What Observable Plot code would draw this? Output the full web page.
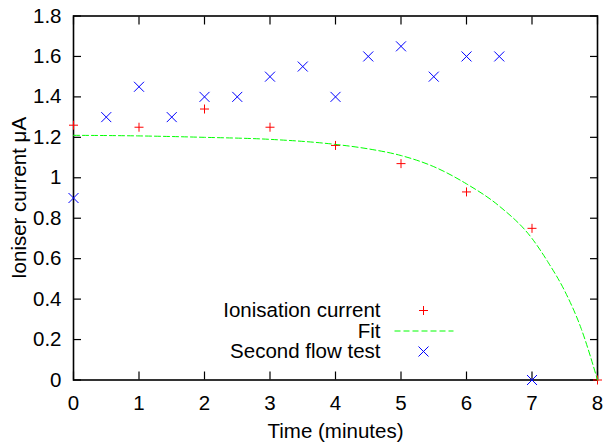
<!DOCTYPE html>
<html>
<head>
<meta charset="utf-8">
<script src="https://cdn.jsdelivr.net/npm/d3@7"></script>
<script src="https://cdn.jsdelivr.net/npm/@observablehq/plot@0.6"></script>
<style>
  html, body { margin: 0; padding: 0; background: #ffffff; }
  #chart { width: 604px; height: 446px; }
</style>
</head>
<body>
<div id="chart"></div>
<script>
// Ionisation current (red +)
const ionT = [0, 1, 2, 3, 4, 5, 6, 7, 8];
const ionV = [1.26, 1.25, 1.34, 1.25, 1.16, 1.07, 0.93, 0.75, 0.0];

// Second flow test (blue x)
const flowT = [0, 0.5, 1, 1.5, 2, 2.5, 3, 3.5, 4, 4.5, 5, 5.5, 6, 6.5, 7];
const flowV = [0.9, 1.3, 1.45, 1.3, 1.4, 1.4, 1.5, 1.55, 1.4, 1.6, 1.65, 1.5, 1.6, 1.6, 0.0];

// Fit curve (green dashed)
const fitT = [0, 1, 2, 3, 4, 4.5, 5, 5.5, 6, 6.5, 7, 7.25, 7.5, 7.75, 8];
const fitV = [1.21, 1.207, 1.2, 1.19, 1.165, 1.143, 1.11, 1.055, 0.97, 0.86, 0.70, 0.58, 0.44, 0.255, 0.0];

const xTicks = [0, 1, 2, 3, 4, 5, 6, 7, 8];
const yTicks = [0, 0.2, 0.4, 0.6, 0.8, 1, 1.2, 1.4, 1.6, 1.8];

const seriesNames = ["Ionisation current", "Fit", "Second flow test"];
const xLabel = "Time (minutes)";
const yLabel = "Ioniser current μA";

const ion = ionT.map((t, i) => ({t, v: ionV[i]}));
const flow = flowT.map((t, i) => ({t, v: flowV[i]}));
const fit = fitT.map((t, i) => ({t, v: fitV[i]}));

const plusSym = {draw(ctx, size) {
  const r = Math.sqrt(size / Math.PI);
  ctx.moveTo(-r, 0); ctx.lineTo(r, 0);
  ctx.moveTo(0, -r); ctx.lineTo(0, r);
}};
const timesSym = {draw(ctx, size) {
  const r = Math.sqrt(size / Math.PI);
  ctx.moveTo(-r, -r); ctx.lineTo(r, r);
  ctx.moveTo(-r, r); ctx.lineTo(r, -r);
}};
const hlineSym = {draw(ctx, size) {
  const r = Math.sqrt(size / Math.PI);
  ctx.moveTo(-r, 0); ctx.lineTo(r, 0);
}};

const RED = "#ff0000", GREEN = "#00ff00", BLUE = "#0000ff";
const blank = () => "";
const numFmt = d => String(+d.toFixed(1));
const FS = 20.5;

const chart = Plot.plot({
  width: 604,
  height: 446,
  marginLeft: 73,
  marginRight: 7,
  marginTop: 15.5,
  marginBottom: 66.5,
  style: {fontSize: FS + "px", fontFamily: "'Liberation Sans', Arial, sans-serif", background: "#ffffff", color: "#000", overflow: "visible"},
  x: {domain: [0, 8]},
  y: {domain: [0, 1.8]},
  marks: [
    // inward ticks on all four sides
    Plot.axisX(xTicks, {anchor: "bottom", tickSize: 8, dy: -8, tickFormat: blank, label: null, strokeWidth: 1.2}),
    Plot.axisX(xTicks, {anchor: "top", tickSize: 8, dy: 8, tickFormat: blank, label: null, strokeWidth: 1.2}),
    Plot.axisY(yTicks, {anchor: "left", tickSize: 8, dx: 8, tickFormat: blank, label: null, strokeWidth: 1.2}),
    Plot.axisY(yTicks, {anchor: "right", tickSize: 8, dx: -8, tickFormat: blank, label: null, strokeWidth: 1.2}),
    // tick labels
    Plot.axisX(xTicks, {anchor: "bottom", tickSize: 0, tickPadding: 15, label: null, fontSize: FS, tickFormat: numFmt}),
    Plot.axisY(yTicks, {anchor: "left", tickSize: 0, tickPadding: 12, label: null, fontSize: FS, tickFormat: numFmt}),
    Plot.frame({stroke: "#000", strokeWidth: 1.6}),
    // axis titles
    Plot.text([xLabel], {frameAnchor: "bottom", dy: 51, lineAnchor: "middle", fontSize: FS}),
    Plot.text([yLabel], {frameAnchor: "left", dx: -54, rotate: -90, lineAnchor: "middle", textAnchor: "middle", fontSize: FS}),
    // data (gnuplot order: points, fit, second test)
    Plot.dot(ion, {x: "t", y: "v", symbol: plusSym, r: 4.5, stroke: RED, fill: "none", strokeWidth: 1}),
    Plot.line(fit, {x: "t", y: "v", stroke: GREEN, strokeWidth: 1, strokeDasharray: "6,3", curve: "monotone-x"}),
    Plot.dot(flow, {x: "t", y: "v", symbol: timesSym, r: 5, stroke: BLUE, fill: "none", strokeWidth: 1}),
    // legend
    Plot.text([seriesNames[0]], {frameAnchor: "bottom-left", dx: 307, dy: -69.5, textAnchor: "end", lineAnchor: "middle", fontSize: FS}),
    Plot.text([seriesNames[1]], {frameAnchor: "bottom-left", dx: 307, dy: -49, textAnchor: "end", lineAnchor: "middle", fontSize: FS}),
    Plot.text([seriesNames[2]], {frameAnchor: "bottom-left", dx: 307, dy: -28.5, textAnchor: "end", lineAnchor: "middle", fontSize: FS}),
    Plot.dot([seriesNames[0]], {frameAnchor: "bottom-left", dx: 350, dy: -69.5, symbol: plusSym, r: 4.5, stroke: RED, fill: "none", strokeWidth: 1}),
    Plot.dot([seriesNames[1]], {frameAnchor: "bottom-left", dx: 350.5, dy: -49, symbol: hlineSym, r: 29.5, stroke: GREEN, fill: "none", strokeWidth: 1, strokeDasharray: "6,3"}),
    Plot.dot([seriesNames[2]], {frameAnchor: "bottom-left", dx: 350, dy: -28.5, symbol: timesSym, r: 5, stroke: BLUE, fill: "none", strokeWidth: 1})
  ]
});
document.getElementById("chart").appendChild(chart);
</script>
</body>
</html>
